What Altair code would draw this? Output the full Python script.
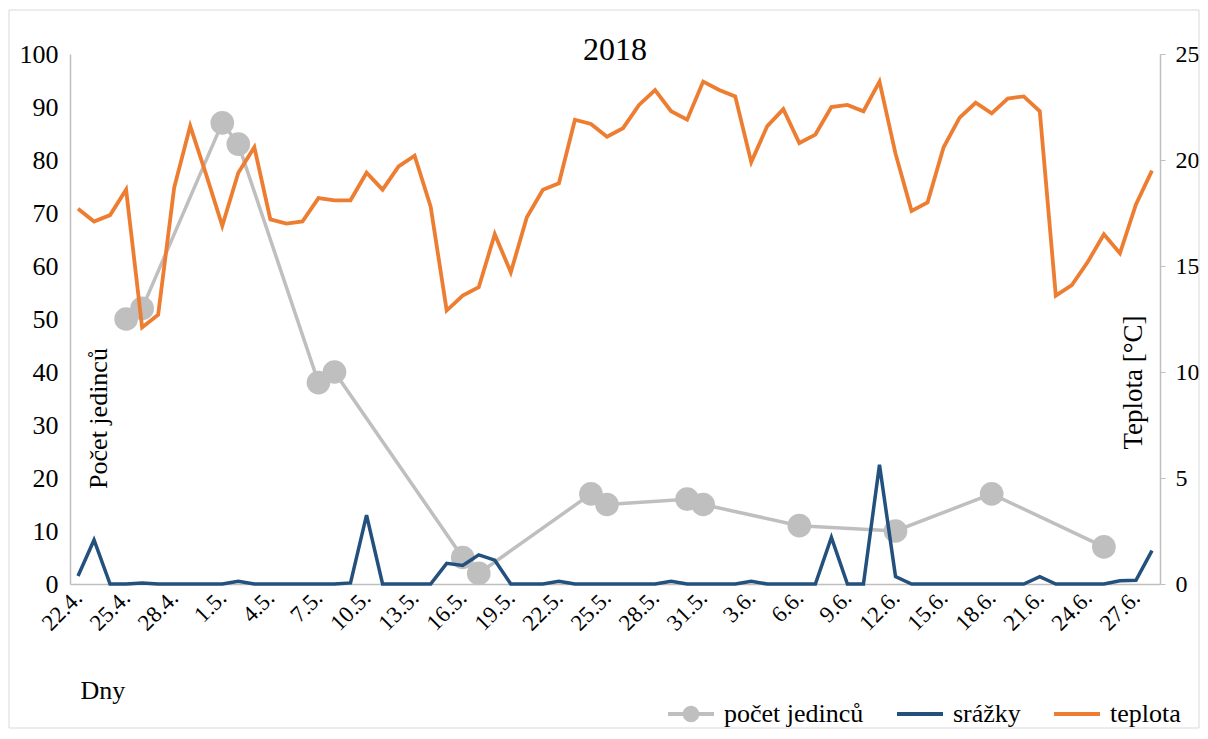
import altair as alt
import pandas as pd

# --- data -------------------------------------------------------------
dny = [f"{d.day}.{d.month}." for d in pd.date_range("2018-04-22", "2018-06-28", freq="D")]

teplota = [17.7, 17.1, 17.4, 18.6, 12.1, 12.7, 18.7, 21.6, 19.3, 16.9,
           19.4, 20.6, 17.2, 17.0, 17.1, 18.2, 18.1, 18.1, 19.4, 18.6,
           19.7, 20.2, 17.8, 12.9, 13.6, 14.0, 16.5, 14.7, 17.3, 18.6,
           18.9, 21.9, 21.7, 21.1, 21.5, 22.6, 23.3, 22.3, 21.9, 23.7,
           23.3, 23.0, 19.9, 21.6, 22.4, 20.8, 21.2, 22.5, 22.6, 22.3,
           23.7, 20.3, 17.6, 18.0, 20.6, 22.0, 22.7, 22.2, 22.9, 23.0,
           22.3, 13.6, 14.1, 15.2, 16.5, 15.6, 17.9, 19.5]

srazky = [1.5, 8.3, 0, 0, 0.2, 0, 0, 0, 0, 0,
          0.5, 0, 0, 0, 0, 0, 0, 0.2, 13.0, 0,
          0, 0, 0, 3.9, 3.5, 5.5, 4.5, 0, 0, 0,
          0.5, 0, 0, 0, 0, 0, 0, 0.5, 0, 0,
          0, 0, 0.5, 0, 0, 0, 0, 8.8, 0, 0,
          22.5, 1.4, 0, 0, 0, 0, 0, 0, 0, 0,
          1.4, 0, 0, 0, 0, 0.6, 0.7, 6.3]

pocet_dny = [3, 4, 9, 10, 15, 16, 24, 25, 32, 33, 38, 39, 45, 51, 57, 64]
pocet = [50, 52, 87, 83, 38, 40, 5, 2, 17, 15, 16, 15, 11, 10, 17, 7]

serie = ["počet jedinců", "srážky", "teplota"]
barvy = ["#bfbfbf", "#23507d", "#ed7d31"]
nadpis = "2018"

df = pd.DataFrame({"den": dny, "i": list(range(len(dny))),
                   "teplota": teplota, "srazky": srazky})
df_p = pd.DataFrame({"den": [dny[k] for k in pocet_dny], "i": pocet_dny, "pocet": pocet})

FONT = "Liberation Serif"
AX = "#bfbfbf"

xscale = alt.Scale(type="point", domain=dny, padding=0.5)
xaxis = alt.Axis(values=dny[::3], title="Dny", labelAngle=-45, labelAlign="right",
                 labelBaseline="middle", labelPadding=10, ticks=False, domainColor=AX,
                 domainWidth=1.5, labelFont=FONT, labelFontSize=23, labelColor="black",
                 titleFont=FONT, titleFontSize=26, titleFontWeight="normal", titleColor="black",
                 titleX=10, titleY=106, titleAlign="left", titleBaseline="middle", titleAngle=0,
                 grid=False)
xenc = alt.X("den:O", scale=xscale, axis=xaxis)

lscale = alt.Scale(domain=[0, 100])
laxis = alt.Axis(orient="left", values=list(range(0, 101, 10)), ticks=False, domainColor=AX,
                 domainWidth=1.5, labelPadding=12, labelFont=FONT, labelFontSize=26,
                 labelColor="black", grid=False, title="Počet jedinců", titleFont=FONT,
                 titleFontSize=26, titleFontWeight="normal", titleColor="black",
                 titleX=28, titleY=364, titleAngle=270, titleAlign="center",
                 titleBaseline="middle")

rscale = alt.Scale(domain=[0, 25])
raxis = alt.Axis(orient="right", values=list(range(0, 26, 5)), ticks=True, tickSize=5,
                 tickColor=AX, domainColor=AX, domainWidth=1.5, labelPadding=10,
                 labelFont=FONT, labelFontSize=24, labelColor="black", grid=False,
                 title="Teplota [°C]", titleFont=FONT, titleFontSize=27,
                 titleFontWeight="normal", titleColor="black", titleX=-27, titleY=328,
                 titleAngle=270, titleAlign="center", titleBaseline="middle")

gray_line = alt.Chart(df_p).mark_line(color=barvy[0], strokeWidth=3.5).encode(
    x=xenc, y=alt.Y("pocet:Q", scale=lscale, axis=laxis), order=alt.Order("i:Q"))
gray_pts = alt.Chart(df_p).mark_point(filled=True, color=barvy[0], opacity=1, size=560).encode(
    x=xenc, y=alt.Y("pocet:Q", scale=lscale, axis=laxis))
blue_line = alt.Chart(df).mark_line(color=barvy[1], strokeWidth=3.5).encode(
    x=xenc, y=alt.Y("srazky:Q", scale=lscale, axis=laxis), order=alt.Order("i:Q"))

left = alt.layer(gray_line, gray_pts, blue_line)

orange_line = alt.Chart(df).mark_line(color=barvy[2], strokeWidth=3.8).encode(
    x=xenc, y=alt.Y("teplota:Q", scale=rscale, axis=raxis), order=alt.Order("i:Q"))

# legend-only layer (no visible marks)
p_circle = ("M-1,-0.09L1,-0.09L1,0.09L-1,0.09Z "
            "M0.36,0A0.36,0.36 0 1,1 -0.36,0A0.36,0.36 0 1,1 0.36,0Z")
p_line = "M-1,-0.09L1,-0.09L1,0.09L-1,0.09Z"
leg_props = dict(orient="none", legendX=598, legendY=637, direction="horizontal",
                 title=None, symbolSize=2116, labelOffset=10, columnPadding=33,
                 labelFont=FONT, labelFontSize=26, labelColor="black", padding=0,
                 symbolStrokeWidth=0)
leg = alt.Chart(pd.DataFrame({"serie": serie})).transform_filter("false").mark_point(
    filled=True, opacity=1, size=2116).encode(
    color=alt.Color("serie:N", scale=alt.Scale(domain=serie, range=barvy),
                    legend=alt.Legend(**leg_props)),
    shape=alt.Shape("serie:N", scale=alt.Scale(domain=serie, range=[p_circle, p_line, p_line]),
                    legend=alt.Legend(**leg_props)))

# chart title as text placed at the top centre of the plot
title_txt = alt.Chart(pd.DataFrame({"t": [nadpis]})).mark_text(
    font=FONT, fontSize=32, color="black", align="center", baseline="middle").encode(
    text="t:N", x=alt.value(545), y=alt.value(-4))

frame = alt.Chart(pd.DataFrame({"a": [0]})).mark_rect(
    filled=False, stroke="#d9d9d9", strokeWidth=1).encode(
    x=alt.value(-61), x2=alt.value(1129), y=alt.value(-44), y2=alt.value(674))

chart = alt.layer(frame, left, orange_line, leg, title_txt).resolve_scale(
    y="independent").properties(
    width=1090, height=530,
    padding={"left": 62, "top": 46, "right": 40, "bottom": 147},
    autosize=alt.AutoSizeParams(type="none"),
).configure_view(stroke=None)

chart.save("out.html", embed_options={"renderer": "svg", "actions": False})
